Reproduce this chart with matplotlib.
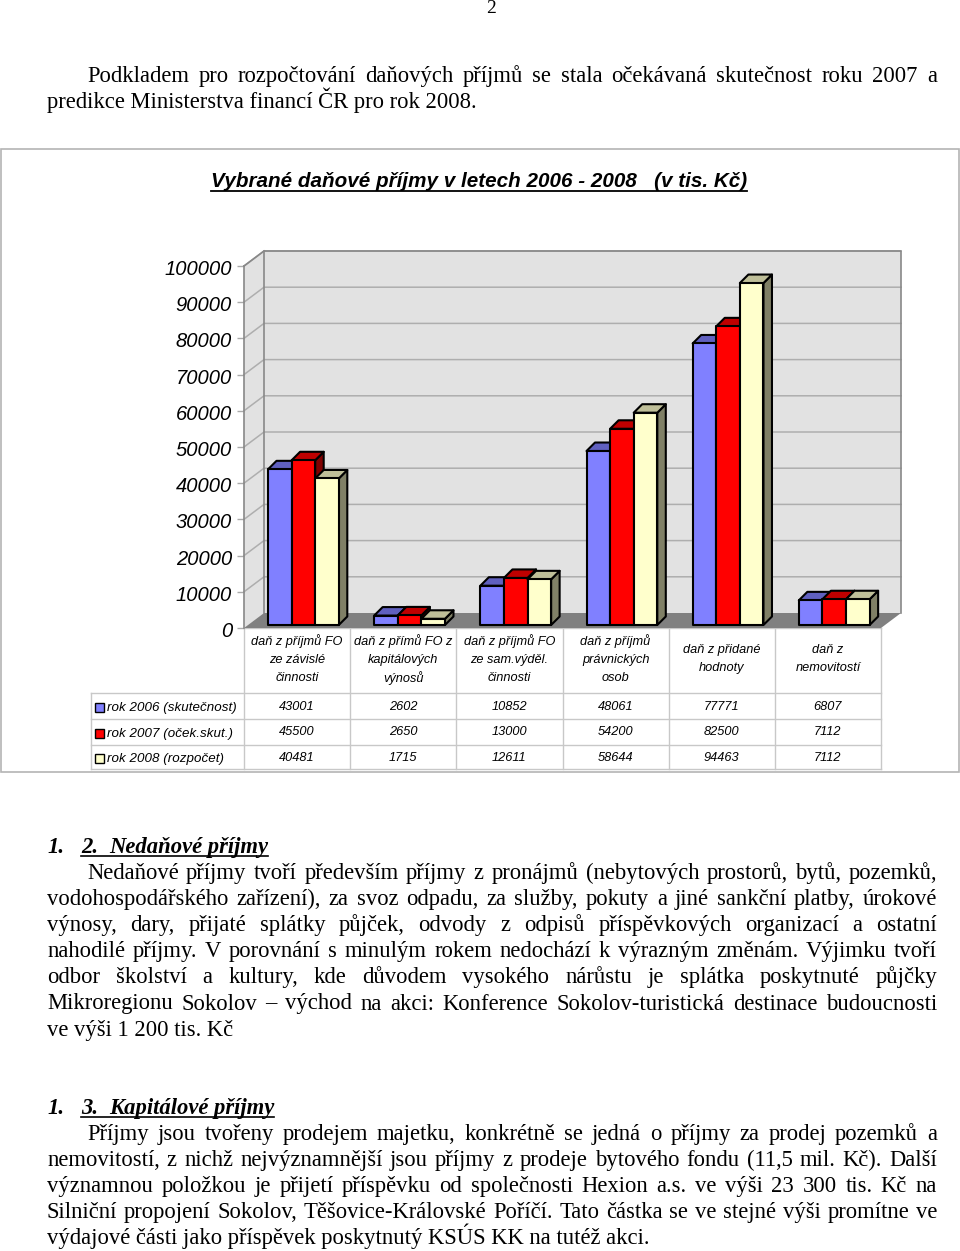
import matplotlib
matplotlib.use("Agg")
import matplotlib.pyplot as plt
from matplotlib.patches import Polygon, Rectangle
from matplotlib.transforms import ScaledTranslation

categories = ["daň z příjmů FO\nze závislé\nčinnosti", "daň z přímů FO z\nkapitálových\nvýnosů",
              "daň z příjmů FO\nze sam.výděl.\nčinnosti", "daň z příjmů\nprávnických\nosob",
              "daň z přidané\nhodnoty", "daň z\nnemovitostí"]
series_names = ["rok 2006 (skutečnost)", "rok 2007 (oček.skut.)", "rok 2008 (rozpočet)"]
v2006 = [43001, 2602, 10852, 48061, 77771, 6807]
v2007 = [45500, 2650, 13000, 54200, 82500, 7112]
v2008 = [40481, 1715, 12611, 58644, 94463, 7112]
yticks = [0, 10000, 20000, 30000, 40000, 50000, 60000, 70000, 80000, 90000, 100000]
title = "Vybrané daňové příjmy v letech 2006 - 2008   (v tis. Kč)"
para1 = ["Podkladem pro rozpočtování daňových příjmů se stala očekávaná skutečnost roku 2007 a",
         "predikce Ministerstva financí ČR pro rok 2008."]
para2 = ["Nedaňové příjmy tvoří především příjmy z pronájmů (nebytových prostorů, bytů, pozemků,",
         "vodohospodářského zařízení), za svoz odpadu, za služby, pokuty a jiné sankční platby, úrokové",
         "výnosy, dary, přijaté splátky půjček, odvody z odpisů příspěvkových organizací a ostatní",
         "nahodilé příjmy. V porovnání s minulým rokem nedochází k výrazným změnám. Výjimku tvoří",
         "odbor školství a kultury, kde důvodem vysokého nárůstu je splátka poskytnuté půjčky",
         "Mikroregionu Sokolov – východ na akci: Konference Sokolov-turistická destinace budoucnosti",
         "ve výši 1 200 tis. Kč"]
para3 = ["Příjmy jsou tvořeny prodejem majetku, konkrétně se jedná o příjmy za prodej pozemků a",
         "nemovitostí, z nichž nejvýznamnější jsou příjmy z prodeje bytového fondu (11,5 mil. Kč). Další",
         "významnou položkou je přijetí příspěvku od společnosti Hexion a.s. ve výši 23 300 tis. Kč na",
         "Silniční propojení Sokolov, Těšovice-Královské Poříčí. Tato částka se ve stejné výši promítne ve",
         "výdajové části jako příspěvek poskytnutý KSÚS KK na tutéž akci."]

W, H = 960, 1251
fig = plt.figure(figsize=(W / 100, H / 100), dpi=100, facecolor="white")
page = fig.add_axes([0, 0, 1, 1])
page.set_xlim(0, W); page.set_ylim(H, 0); page.axis("off")
SERIF = "Liberation Serif"; SANS = "Liberation Sans"; FS = 16.25
renderer = fig.canvas.get_renderer()

def width(s, **kw):
    t = page.text(0, 0, s, **kw)
    w = t.get_window_extent(renderer).width
    t.remove()
    return w

def line(s, x0, x1, base, justify=True):
    kw = dict(family=SERIF, fontsize=FS, color="black")
    if not justify:
        page.text(x0, base, s, va="baseline", **kw)
        return
    words = s.split(" ")
    ws = [width(w, **kw) for w in words]
    gap = (x1 - x0 - sum(ws)) / (len(words) - 1)
    x = x0
    for w, wd in zip(words, ws):
        page.text(x, base, w, va="baseline", **kw)
        x += wd + gap

page.text(491.5, 13, "2", family=SERIF, fontsize=14, ha="center", va="baseline")
line(para1[0], 87, 937, 82)
line(para1[1], 47, 937, 108, justify=False)
for i, s in enumerate(para2):
    line(s, 87 if i == 0 else 47, 937, 879 + i * 26.1, justify=i < 6)
for i, s in enumerate(para3):
    line(s, 87 if i == 0 else 47, 937, 1140 + i * 26.1, justify=i < 4)

def heading(num, name, base):
    kw = dict(family=SERIF, fontsize=FS, weight="bold", style="italic", va="baseline")
    page.text(47, base, "1.", **kw)
    page.text(81, base, num, **kw)
    t = page.text(109, base, name, **kw)
    page.plot([81, 109 + t.get_window_extent(renderer).width], [base + 2.5] * 2, color="black", lw=1.2)

heading("2.", "Nedaňové příjmy", 853)
heading("3.", "Kapitálové příjmy", 1114)

# chart frame
page.add_patch(Rectangle((1, 149), 958, 623, fc="white", ec="#b4b4b4", lw=1.2))
t = page.text(211, 187, title, family=SANS, fontsize=14.9, weight="bold", style="italic", va="baseline")
page.plot([211, 211 + t.get_window_extent(renderer).width], [190.5] * 2, color="black", lw=1.3)

# table
GRID = "#c8c8c8"
X0, CW = 244, 637 / 6
rows = [693, 719, 745, 769]
for r in rows:
    page.plot([91, 881], [r, r], color=GRID, lw=1)
page.plot([244, 881], [628, 628], color=GRID, lw=1)
page.plot([91, 91], [693, 769], color=GRID, lw=1)
for i in range(7):
    page.plot([X0 + i * CW] * 2, [628, 769], color=GRID, lw=1)
for i, c in enumerate(categories):
    ls = c.split("\n")
    ys = [641, 660, 678] if len(ls) == 3 else [650, 668]
    for s, y in zip(ls, ys):
        page.text(X0 + (i + .5) * CW, y, s, family=SANS, style="italic", fontsize=9.2, ha="center", va="center")
colors = ["#8080ff", "#ff0000", "#ffffcc"]
tops = ["#6060bf", "#bf0000", "#bfbf99"]
sides = ["#404080", "#800000", "#808066"]
for k, (name, vals) in enumerate(zip(series_names, [v2006, v2007, v2008])):
    yc = [708, 734, 759][k]
    yv = [707, 732, 758][k]
    page.add_patch(Rectangle((95, yc - 5), 9, 9, fc=colors[k], ec="black", lw=1))
    page.text(107, yc, name, family=SANS, style="italic", fontsize=9.6, va="center")
    for i, v in enumerate(vals):
        page.text(X0 + (i + .5) * CW, yv, str(v), family=SANS, style="italic", fontsize=9.2, ha="center", va="center")

# 3-D column chart
ax = fig.add_axes([244 / W, 1 - 628 / H, 637 / W, 362 / H])
ax.set_xlim(0, 6); ax.set_ylim(0, 100000)
ax.patch.set_visible(False)
for s in ["top", "right", "bottom"]:
    ax.spines[s].set_visible(False)
ax.spines["left"].set_color("#888888"); ax.spines["left"].set_linewidth(1.2)
ax.set_xticks([])
ax.set_yticks(yticks)
ax.set_yticklabels([str(v) for v in yticks], family=SANS, style="italic", fontsize=14.5)
ax.tick_params(axis="y", length=5, width=1, color="#aaaaaa", pad=3.6)
shift = ScaledTranslation(0, -1.5 / 100, fig.dpi_scale_trans)
for lbl in ax.get_yticklabels():
    lbl.set_transform(lbl.get_transform() + shift)

dx, dy = 20 / CW, 15 / 362 * 100000     # depth of the box
bdx, bdy = 8.5 / CW, 8.5 / 362 * 100000  # depth of a column
b0 = 3 / 362 * 100000                     # column base sits just behind the front edge
bx0, bw = 24 / CW, 23.6 / CW

def poly(pts, fc, ec="none", lw=0, z=1):
    ax.add_patch(Polygon(pts, closed=True, fc=fc, ec=ec, lw=lw, zorder=z, clip_on=False, joinstyle="round"))

poly([(0, 0), (dx, dy), (dx, 100000 + dy), (0, 100000)], "#e2e2e2", z=1)
poly([(dx, dy), (6 + dx, dy), (6 + dx, 100000 + dy), (dx, 100000 + dy)], "#e2e2e2", z=1)
poly([(0, 0), (6, 0), (6 + dx, dy), (dx, dy)], "#808080", z=2)
for v in yticks[1:]:
    ax.plot([0, dx, 6 + dx], [v, v + dy, v + dy], color="#aeaeae", lw=1.1, zorder=1.5, clip_on=False)
ax.plot([dx, dx, 6 + dx, 6 + dx], [dy, 100000 + dy, 100000 + dy, dy], color="#888888", lw=1.2, zorder=1.6, clip_on=False)
ax.plot([0, dx], [100000, 100000 + dy], color="#888888", lw=1.2, zorder=1.6, clip_on=False)

z = 3
for i in range(6):
    for k, vals in enumerate([v2006, v2007, v2008]):
        v = vals[i]
        x = i + bx0 + k * bw
        e = dict(ec="black", lw=1.5)
        poly([(x + bw, b0), (x + bw + bdx, b0 + bdy), (x + bw + bdx, b0 + v + bdy), (x + bw, b0 + v)], sides[k], z=z, **e)
        poly([(x, b0 + v), (x + bdx, b0 + v + bdy), (x + bw + bdx, b0 + v + bdy), (x + bw, b0 + v)], tops[k], z=z, **e)
        poly([(x, b0), (x + bw, b0), (x + bw, b0 + v), (x, b0 + v)], colors[k], z=z + .1, **e)
        z += .2

fig.savefig("out.png", dpi=100)
